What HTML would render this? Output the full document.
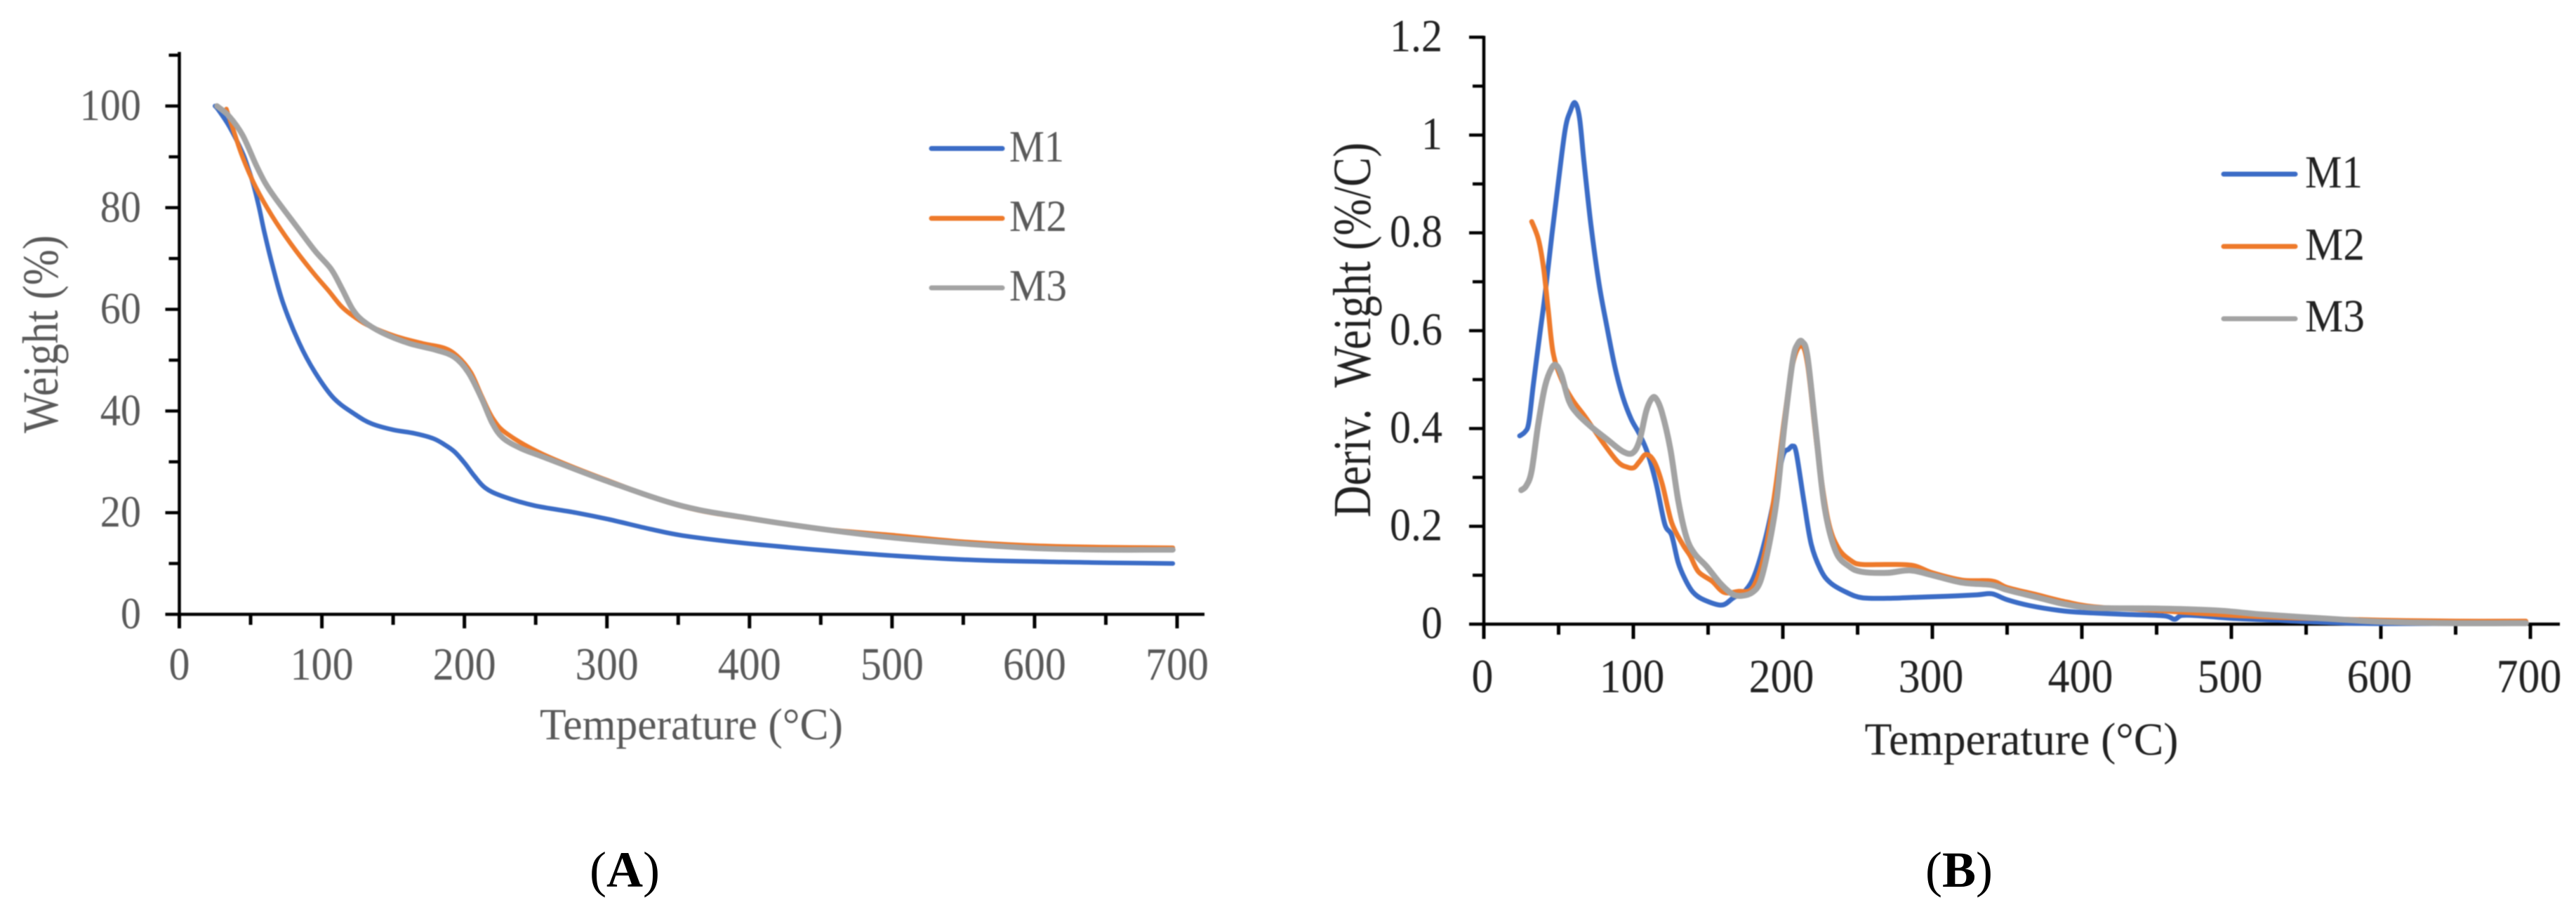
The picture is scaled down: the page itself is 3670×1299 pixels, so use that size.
<!DOCTYPE html>
<html lang="en">
<head>
<meta charset="utf-8">
<title>TGA and DTG curves</title>
<style>
html,body{margin:0;padding:0;background:#fff;}
svg{display:block;}
#panelA,#panelB{filter:blur(0.9px);}
text{font-family:"Liberation Serif",serif;}
</style>
</head>
<body>
<svg id="fig" xmlns="http://www.w3.org/2000/svg" width="3670" height="1299" viewBox="0 0 3670 1299">
  <rect width="3670" height="1299" fill="#fff"/>
  <g id="panelA">
    <text x="985" y="1053" font-size="63" fill="#595959" text-anchor="middle" textLength="432" lengthAdjust="spacingAndGlyphs">Temperature (°C)</text>
    <text transform="translate(82,476) rotate(-90)" font-size="72" fill="#595959" text-anchor="middle" textLength="282" lengthAdjust="spacingAndGlyphs">Weight (%)</text>
    <g>
      <line x1="1327" x2="1428" y1="211.5" y2="211.5" stroke="#3b6cc6" stroke-width="7" stroke-linecap="round"/>
      <text x="1438" y="230" font-size="64" fill="#595959" textLength="78" lengthAdjust="spacingAndGlyphs">M1</text>
      <line x1="1327" x2="1428" y1="311" y2="311" stroke="#EE7A2B" stroke-width="7" stroke-linecap="round"/>
      <text x="1438" y="329" font-size="64" fill="#595959" textLength="82" lengthAdjust="spacingAndGlyphs">M2</text>
      <line x1="1327" x2="1428" y1="410" y2="410" stroke="#A3A3A3" stroke-width="7" stroke-linecap="round"/>
      <text x="1438" y="428" font-size="64" fill="#595959" textLength="82" lengthAdjust="spacingAndGlyphs">M3</text>
    </g>
  </g>
  <g id="panelB">
    <text x="2880" y="1075" font-size="66" fill="#222" text-anchor="middle" textLength="447" lengthAdjust="spacingAndGlyphs">Temperature (°C)</text>
    <text transform="translate(1952,470) rotate(-90)" font-size="76" fill="#222" text-anchor="middle" textLength="534" lengthAdjust="spacingAndGlyphs" xml:space="preserve">Deriv.  Weight (%/C)</text>
    <g>
      <line x1="3168" x2="3270" y1="248" y2="248" stroke="#3b6cc6" stroke-width="7" stroke-linecap="round"/>
      <text x="3284" y="267" font-size="66" fill="#222" textLength="82" lengthAdjust="spacingAndGlyphs">M1</text>
      <line x1="3168" x2="3270" y1="351" y2="351" stroke="#EE7A2B" stroke-width="7" stroke-linecap="round"/>
      <text x="3284" y="370" font-size="66" fill="#222" textLength="85" lengthAdjust="spacingAndGlyphs">M2</text>
      <line x1="3168" x2="3270" y1="454" y2="454" stroke="#A3A3A3" stroke-width="7" stroke-linecap="round"/>
      <text x="3284" y="472" font-size="66" fill="#222" textLength="85" lengthAdjust="spacingAndGlyphs">M3</text>
    </g>
  </g>
  <text x="890" y="1263" font-size="72" fill="#000" text-anchor="middle">(<tspan font-weight="bold">A</tspan>)</text>
  <text x="2791" y="1263" font-size="72" fill="#000" text-anchor="middle">(<tspan font-weight="bold">B</tspan>)</text>
</svg>
<script>
const xTicks = [0,100,200,300,400,500,600,700];
const yTicksA = [0,20,40,60,80,100];
const yTickLabelsB = ["0","0.2","0.4","0.6","0.8","1","1.2"];
const yTicksB = [0,0.2,0.4,0.6,0.8,1,1.2];

const tempA1 = [25,27.5,35,44,48,52,56,59.4,65,72.6,83.9,95.2,108.4,123.5,135,150,165,178,186,193,200,207,214.5,226,249,278,301,330,353,393,451,503,566,640,697];
const weightA1 = [100,99.2,96,91,88,84.5,80,75.5,69,61.4,53.5,47.6,42.5,39.3,37.5,36.3,35.6,34.6,33.4,32,29.8,27.2,24.9,23.3,21.4,20,18.7,16.8,15.5,14.1,12.6,11.5,10.6,10.2,10];
const tempA2 = [33,38.7,44.3,53.7,65,78.2,93.3,104.6,114,123.4,132.8,151.7,170.6,185.7,195,204.5,212,220,230,255,301,353,402,451,503,549,601,650,697];
const weightA2 = [99.4,94.6,90,84,78.4,72.9,67.4,63.7,60.5,58.4,56.8,54.7,53.3,52.4,50.8,47.6,43,38.5,35.5,31.5,26.3,21.2,18.7,16.8,15.5,14.3,13.5,13.2,13.1];
const tempA3 = [26.4,34.9,44.3,53.7,60,67,82,95.2,106.5,114,121.6,129,142.3,161.2,180,193,202.7,212,219.6,227,240,255,301,353,402,450,500,550,600,650,697];
const weightA3 = [100,98,94.3,88.5,85,82,76.4,71.5,67.9,64.1,60,57.7,55.4,53.3,52,50.6,47.6,42.5,37.6,34.7,32.6,31,26.1,21.3,18.8,16.8,15.1,13.9,13,12.7,12.7];

const tempB1 = [24,27.5,30,33,37.4,41,45.5,50,54.5,58,61,64,67,71.6,77,82.4,87.8,93,98.6,104,109.4,115,121,125.6,130,134.6,140,147,159,167,175,181.4,188.6,195,200,204,206.6,209,214,219,225.5,232,242.6,253,270,290,310,330,340,350,365,385,400,430,455,462,467,480,500,530,560,600,697];
const derivB1 = [0.385,0.393,0.411,0.487,0.592,0.675,0.795,0.908,1.013,1.05,1.066,1.035,0.945,0.817,0.697,0.607,0.524,0.464,0.419,0.389,0.351,0.291,0.205,0.182,0.126,0.092,0.065,0.05,0.039,0.054,0.069,0.103,0.178,0.268,0.344,0.358,0.364,0.35,0.253,0.163,0.11,0.084,0.065,0.054,0.053,0.055,0.057,0.06,0.062,0.05,0.038,0.028,0.024,0.02,0.017,0.01,0.018,0.017,0.012,0.008,0.004,0.001,0.002];
const tempB2 = [32,36.5,40,43,46.4,52,59,68,79,89.6,96,100.4,104,108.5,114,119.3,125.6,133,138,143.6,152.6,160.7,170.6,178,183,188.6,195,201,206.6,212,216.5,223,230,237,246,253,270,287,300,320,340,350,370,390,410,450,500,550,600,650,697];
const derivB2 = [0.823,0.787,0.727,0.644,0.554,0.5,0.46,0.423,0.374,0.332,0.321,0.32,0.332,0.347,0.332,0.287,0.208,0.163,0.14,0.107,0.088,0.065,0.067,0.069,0.095,0.156,0.276,0.419,0.532,0.569,0.532,0.359,0.216,0.156,0.129,0.122,0.122,0.12,0.105,0.09,0.088,0.075,0.06,0.045,0.035,0.028,0.018,0.012,0.008,0.006,0.006];
const tempB3 = [25,28.4,32,36.5,41,45.5,48.6,52,57,62.6,71.6,82.4,93,99.5,104,108.5,112,115,119,124.7,130,135.5,141,149,158,166,172.4,179.6,185,190.4,195.8,201,206.6,210,213,216.5,222,228,235.5,244.4,253,270,285,300,320,340,350,370,390,410,450,490,520,560,600,650,697];
const derivB3 = [0.274,0.283,0.314,0.411,0.487,0.524,0.529,0.509,0.456,0.43,0.404,0.378,0.353,0.35,0.374,0.434,0.46,0.462,0.434,0.359,0.253,0.178,0.144,0.118,0.084,0.062,0.058,0.065,0.088,0.156,0.253,0.404,0.539,0.573,0.577,0.547,0.396,0.238,0.148,0.118,0.107,0.105,0.11,0.1,0.085,0.08,0.07,0.055,0.04,0.033,0.032,0.028,0.02,0.012,0.005,0.002,0.002];

const NS = 'http://www.w3.org/2000/svg';

function scale(d0, d1, r0, r1) {
  return function (v) { return r0 + (v - d0) * (r1 - r0) / (d1 - d0); };
}

function smoothPath(xs, ys, sx, sy) {
  const p = xs.map(function (x, i) { return [sx(x), sy(ys[i])]; });
  let d = 'M' + p[0][0].toFixed(1) + ' ' + p[0][1].toFixed(1);
  for (let i = 0; i < p.length - 1; i++) {
    const a = p[Math.max(i - 1, 0)], b = p[i], c = p[i + 1], e = p[Math.min(i + 2, p.length - 1)];
    const c1x = b[0] + (c[0] - a[0]) / 6, c1y = b[1] + (c[1] - a[1]) / 6;
    const c2x = c[0] - (e[0] - b[0]) / 6, c2y = c[1] - (e[1] - b[1]) / 6;
    d += 'C' + c1x.toFixed(1) + ' ' + c1y.toFixed(1) + ' ' + c2x.toFixed(1) + ' ' + c2y.toFixed(1) + ' ' + c[0].toFixed(1) + ' ' + c[1].toFixed(1);
  }
  return d;
}

function addLine(g, x1, y1, x2, y2, w) {
  const l = document.createElementNS(NS, 'line');
  l.setAttribute('x1', x1);
  l.setAttribute('y1', y1);
  l.setAttribute('x2', x2);
  l.setAttribute('y2', y2);
  l.setAttribute('stroke', '#000');
  l.setAttribute('stroke-width', w);
  
  
  g.appendChild(l);
  return l;
}

function addLabel(g, x, y, txt, size, fill, anchor) {
  const t = document.createElementNS(NS, 'text');
  t.setAttribute('transform', 'translate(' + x + ',' + y + ') scale(0.91,1)');
  t.setAttribute('font-size', size);
  t.setAttribute('fill', fill);
  t.setAttribute('text-anchor', anchor);
  
  
  t.textContent = txt;
  g.appendChild(t);
}

function addSeries(g, xs, ys, sx, sy, color, width) {
  const p = document.createElementNS(NS, 'path');
  p.setAttribute('d', smoothPath(xs, ys, sx, sy));
  p.setAttribute('fill', 'none');
  p.setAttribute('stroke', color);
  p.setAttribute('stroke-width', width);
  p.setAttribute('stroke-linejoin', 'round');
  p.setAttribute('stroke-linecap', 'round');
  
  
  g.appendChild(p);
}

/* Panel A */
(function () {
  const g = document.getElementById('panelA');
  const sx = scale(0, 700, 255.5, 1677);
  const sy = scale(0, 100, 875, 151);
  const axisGrey = '#595959';
  addLine(g, sx(0), sy(0) + 2, sx(0), 74, 4.5);
  addLine(g, sx(0) - 20, sy(0), 1716, sy(0), 4.5);
  for (let v = 10; v <= 110; v += 10) {
    addLine(g, sx(0) - (v % 20 === 0 ? 20 : 15), sy(v), sx(0), sy(v), 4.5);
  }
  for (let t = 0; t <= 700; t += 50) {
    addLine(g, sx(t), sy(0), sx(t), sy(0) + (t % 100 === 0 ? 20 : 15), 5);
  }
  xTicks.forEach(function (t) { addLabel(g, sx(t), 968, String(t), 66, axisGrey, 'middle'); });
  yTicksA.forEach(function (v) { addLabel(g, 201, sy(v) + 20, String(v), 64, axisGrey, 'end'); });
  addSeries(g, tempA1, weightA1, sx, sy, '#3b6cc6', 6.5);
  addSeries(g, tempA2, weightA2, sx, sy, '#EE7A2B', 6.5);
  addSeries(g, tempA3, weightA3, sx, sy, '#A3A3A3', 8);
})();

/* Panel B */
(function () {
  const g = document.getElementById('panelB');
  const sx = scale(0, 700, 2114, 3605);
  const sy = scale(0, 1.2, 889, 53);
  const ink = '#222';
  addLine(g, sx(0), sy(0) + 21, sx(0), sy(1.2) - 2, 4.5);
  addLine(g, sx(0) - 21, sy(0), 3647, sy(0), 4.5);
  for (let i = 1; i <= 12; i++) {
    addLine(g, sx(0) - (i % 2 === 0 ? 21 : 16), sy(i / 10), sx(0), sy(i / 10), 4.5);
  }
  for (let t = 0; t <= 700; t += 50) {
    addLine(g, sx(t), sy(0), sx(t), sy(0) + (t % 100 === 0 ? 21 : 15), 5);
  }
  xTicks.forEach(function (t) { addLabel(g, sx(t) - 2, 986, String(t), 68, ink, 'middle'); });
  yTicksB.forEach(function (v, i) { addLabel(g, 2055, sy(v) + 20, yTickLabelsB[i], 66, ink, 'end'); });
  addSeries(g, tempB1, derivB1, sx, sy, '#3b6cc6', 7);
  addSeries(g, tempB2, derivB2, sx, sy, '#EE7A2B', 7);
  addSeries(g, tempB3, derivB3, sx, sy, '#A3A3A3', 8.5);
})();
</script>
</body>
</html>
